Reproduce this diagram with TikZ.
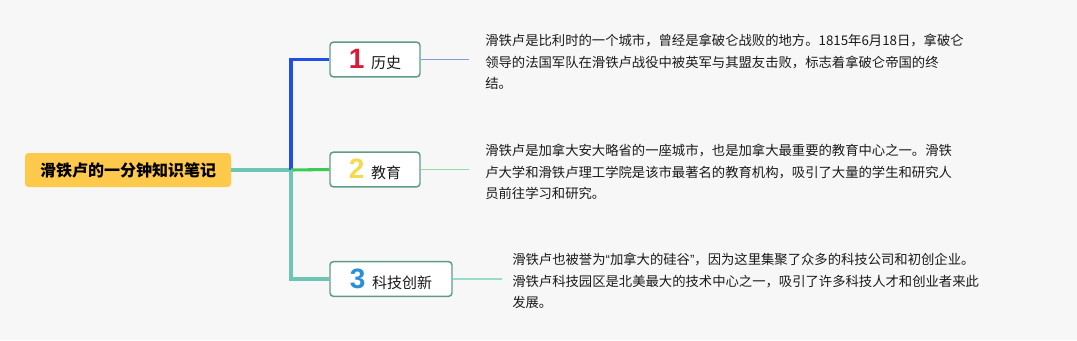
\documentclass[tikz,border=0pt]{standalone}
\usepackage{fontspec}
\setmainfont{Noto Sans CJK SC}
\newfontfamily\cjk{Noto Sans CJK SC}
\newfontfamily\numfont{Liberation Sans}
\definecolor{bg}{HTML}{F7F7F7}
\definecolor{rootfill}{HTML}{FFC94B}
\definecolor{boxline}{HTML}{5E9C88}
\definecolor{trunkteal}{HTML}{6CC5B5}
\definecolor{trunkblue}{HTML}{1F4FE6}
\definecolor{trunkgreen}{HTML}{3DCB57}
\definecolor{thinblue}{HTML}{7F9FE0}
\definecolor{thingreen}{HTML}{94DDA2}
\definecolor{thinteal}{HTML}{98DCCB}
\definecolor{numred}{HTML}{D91B3A}
\definecolor{numyellow}{HTML}{F5D94E}
\definecolor{numblue}{HTML}{2B8FD8}
\definecolor{txt}{HTML}{1A1A1A}
\newcommand{\qfont}[1]{{\numfont #1}}
\tikzset{
  rootbox/.style={fill=rootfill, rounded corners=2.5pt, minimum width=154.5pt, minimum height=25.5pt, inner sep=0pt, font=\cjk\fontsize{12}{14}\selectfont\bfseries, text=black},
  topicbox/.style={draw=boxline, line width=1.1pt, fill=white, rounded corners=2.5pt, minimum height=26pt, inner sep=0pt, font=\cjk\fontsize{11.25}{13}\selectfont, text=txt},
  notetext/.style={anchor=west, align=left, inner sep=0pt, font=\cjk\fontsize{10}{16.1}\selectfont, text=txt},
  thick branch/.style={line width=2.3pt},
  thin branch/.style={line width=1.3pt}
}
\newcommand{\topicnum}[2]{{\numfont\fontsize{21}{22}\selectfont\bfseries\color{#1}#2}}
\begin{document}
\begin{tikzpicture}[x=0.75pt,y=-0.75pt]
\fill[bg] (0,0) rectangle (1077,340);
\useasboundingbox (0,0) rectangle (1077,340);

\node[rootbox] (root) at (128,170) {滑铁卢的一分钟知识笔记};

\node[topicbox, minimum width=67.5pt] (n1) at (375,59.5) {\topicnum{numred}{1}\hspace{5pt}历史};
\node[topicbox, minimum width=67.5pt] (n2) at (375,169.5) {\topicnum{numyellow}{2}\hspace{5pt}教育};
\node[topicbox, minimum width=91.5pt] (n3) at (391,279) {\topicnum{numblue}{3}\hspace{5pt}科技创新};

\coordinate (j) at (291,170);

\draw[trunkteal, thick branch] (root.east) -- (j);
\draw[trunkblue, thick branch, line join=miter] (j) |- (n1.west);
\draw[trunkgreen, thick branch] (j) -- (n2.west);
\draw[trunkteal, thick branch, line join=miter] (j) |- (n3.west);

\node[notetext] (t1) at (485,62) {滑铁卢是比利时的一个城市，曾经是拿破仑战败的地方。1815年6月18日，拿破仑\\领导的法国军队在滑铁卢战役中被英军与其盟友击败，标志着拿破仑帝国的终\\结。};
\node[notetext] (t2) at (485,172) {滑铁卢是加拿大安大略省的一座城市，也是加拿大最重要的教育中心之一。滑铁\\卢大学和滑铁卢理工学院是该市最著名的教育机构，吸引了大量的学生和研究人\\员前往学习和研究。};
\node[notetext] (t3) at (512,281) {滑铁卢也被誉为\qfont{“}加拿大的硅谷\qfont{”}，因为这里集聚了众多的科技公司和初创企业。\\滑铁卢科技园区是北美最大的技术中心之一，吸引了许多科技人才和创业者来此\\发展。};

\coordinate (e1) at (469,59.5);
\coordinate (e2) at (469,169.5);
\coordinate (e3) at (502,279);
\draw[thinblue, thin branch] (n1.east) -- (e1);
\draw[thingreen, thin branch] (n2.east) -- (e2);
\draw[thinteal, thin branch] (n3.east) -- (e3);
\end{tikzpicture}
\end{document}
